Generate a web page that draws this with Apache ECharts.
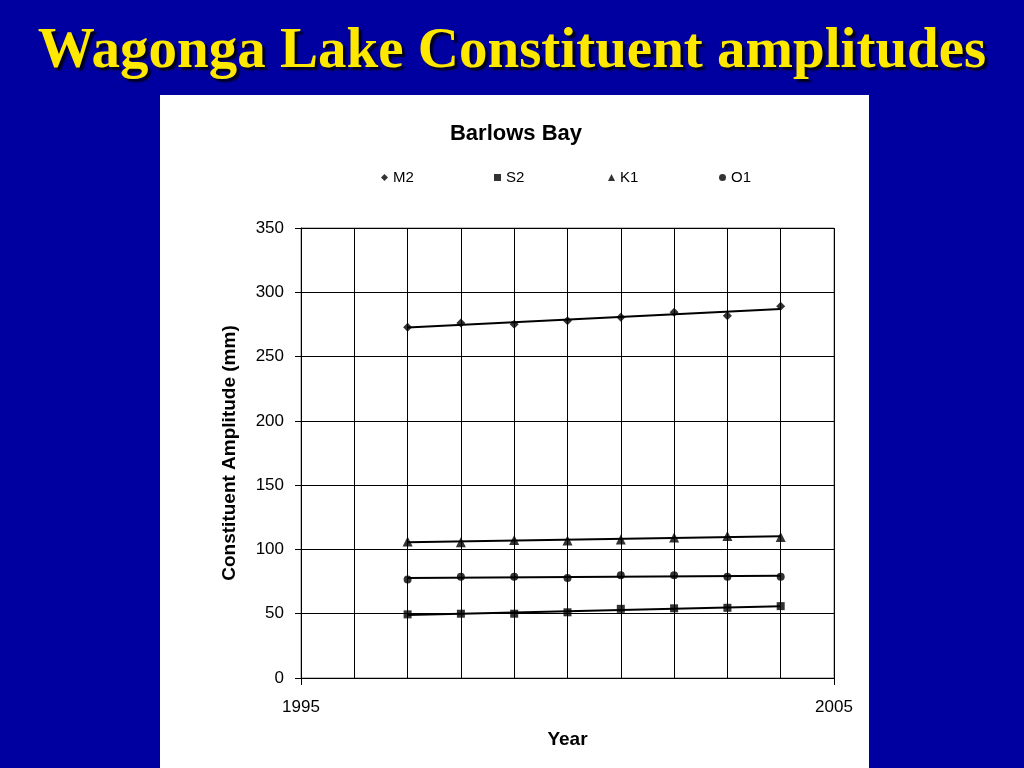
<!DOCTYPE html>
<html>
<head>
<meta charset="utf-8">
<script src="https://cdn.jsdelivr.net/npm/echarts@6/dist/echarts.min.js"></script>
<style>
html,body{margin:0;padding:0;background:#0000A0;}
#chart{width:1024px;height:768px;}
</style>
</head>
<body>
<div id="chart"></div>
<script>
var years = [1997, 1998, 1999, 2000, 2001, 2002, 2003, 2004];
var M2 = [272.8, 276.2, 275.1, 277.9, 280.5, 284.5, 281.8, 289.2];
var S2 = [49.5, 50.0, 50.0, 51.1, 53.8, 54.2, 54.6, 55.9];
var K1 = [106.2, 105.5, 107.3, 107.0, 107.8, 109.2, 110.4, 109.6];
var O1 = [76.7, 78.8, 78.8, 77.8, 80.0, 80.0, 78.8, 78.8];
var xTicks = [1995, 2005];
var yTicks = [0, 50, 100, 150, 200, 250, 300, 350];

function pairs(xs, ys) { return xs.map(function (x, i) { return [x, ys[i]]; }); }
function trend(xs, ys) {
  var n = xs.length, sx = 0, sy = 0, sxx = 0, sxy = 0;
  for (var i = 0; i < n; i++) { sx += xs[i]; sy += ys[i]; sxx += xs[i] * xs[i]; sxy += xs[i] * ys[i]; }
  var b = (n * sxy - sx * sy) / (n * sxx - sx * sx);
  var a = (sy - b * sx) / n;
  var x0 = xs[0], x1 = xs[n - 1];
  return [[x0, a + b * x0], [x1, a + b * x1]];
}

var names = ['M2', 'S2', 'K1', 'O1'];
var dataSets = [M2, S2, K1, O1];
var symbols = ['diamond', 'rect', 'triangle', 'circle'];
var sizes = [9, 8, 10, 8];
var legendLeft = [381, 494, 608, 719];
var font = '"Liberation Sans", Arial, sans-serif';

var series = [];
var legends = [];
names.forEach(function (nm, i) {
  series.push({
    name: nm + ' trend', type: 'line', data: trend(years, dataSets[i]),
    showSymbol: false, symbol: 'none', silent: true,
    lineStyle: { color: '#000', width: 2 }, z: 2
  });
  series.push({
    name: nm, type: 'scatter', data: pairs(years, dataSets[i]),
    symbol: symbols[i], symbolSize: sizes[i],
    itemStyle: { color: '#000' }, z: 3
  });
  legends.push({
    data: [{ name: nm, icon: symbols[i] }],
    left: legendLeft[i], top: 170, padding: 0, itemWidth: 7, itemHeight: 7, itemGap: 4,
    textStyle: { fontFamily: font, fontSize: 15, color: '#000', padding: 0 },
    selectedMode: false
  });
});

var chart = echarts.init(document.getElementById('chart'));
chart.setOption({
  backgroundColor: '#0000A0',
  animation: false,
  graphic: [
    { type: 'rect', shape: { x: 160, y: 95, width: 709, height: 673 }, style: { fill: '#fff' }, z: -10 },
    { type: 'text', left: 'center', top: 24, z: 10,
      style: { text: 'Wagonga Lake Constituent amplitudes', fill: '#FFE800',
        font: 'bold 57px "Liberation Serif", "Times New Roman", serif',
        textShadowColor: 'rgba(0,0,0,0.85)', textShadowOffsetX: 3, textShadowOffsetY: 3, textShadowBlur: 2 } }
  ],
  title: {
    text: 'Barlows Bay', left: 511, textAlign: 'center', top: 118,
    textStyle: { fontFamily: font, fontSize: 22, fontWeight: 'bold', color: '#000' }
  },
  legend: legends,
  grid: { left: 301, right: 190, top: 228, bottom: 90, show: true, borderColor: '#808080', borderWidth: 1, backgroundColor: 'transparent' },
  xAxis: {
    type: 'value', min: xTicks[0], max: xTicks[1], interval: 10,
    name: 'Year', nameLocation: 'middle', nameGap: 52,
    nameTextStyle: { fontFamily: font, fontSize: 19, fontWeight: 'bold', color: '#000' },
    axisLine: { show: true, lineStyle: { color: '#000', width: 1 } },
    axisTick: { show: true, length: 7, lineStyle: { color: '#000' } },
    axisLabel: { fontFamily: font, fontSize: 17, color: '#000', margin: 21,
      formatter: function (v) { return String(v); } },
    splitLine: { show: true, lineStyle: { color: '#000', width: 1 } },
    minorTick: { show: false, splitNumber: 10 },
    minorSplitLine: { show: true, lineStyle: { color: '#000', width: 1 } }
  },
  yAxis: {
    type: 'value', min: yTicks[0], max: yTicks[yTicks.length - 1], interval: 50,
    name: 'Constituent Amplitude (mm)', nameLocation: 'middle', nameGap: 62, nameRotate: 90,
    nameTextStyle: { fontFamily: font, fontSize: 19, fontWeight: 'bold', color: '#000' },
    axisLine: { show: true, lineStyle: { color: '#000', width: 1 } },
    axisTick: { show: true, length: 6, lineStyle: { color: '#000' } },
    axisLabel: { fontFamily: font, fontSize: 17, color: '#000', margin: 17 },
    splitLine: { show: true, lineStyle: { color: '#000', width: 1 } }
  },
  series: series
});
</script>
</body>
</html>
